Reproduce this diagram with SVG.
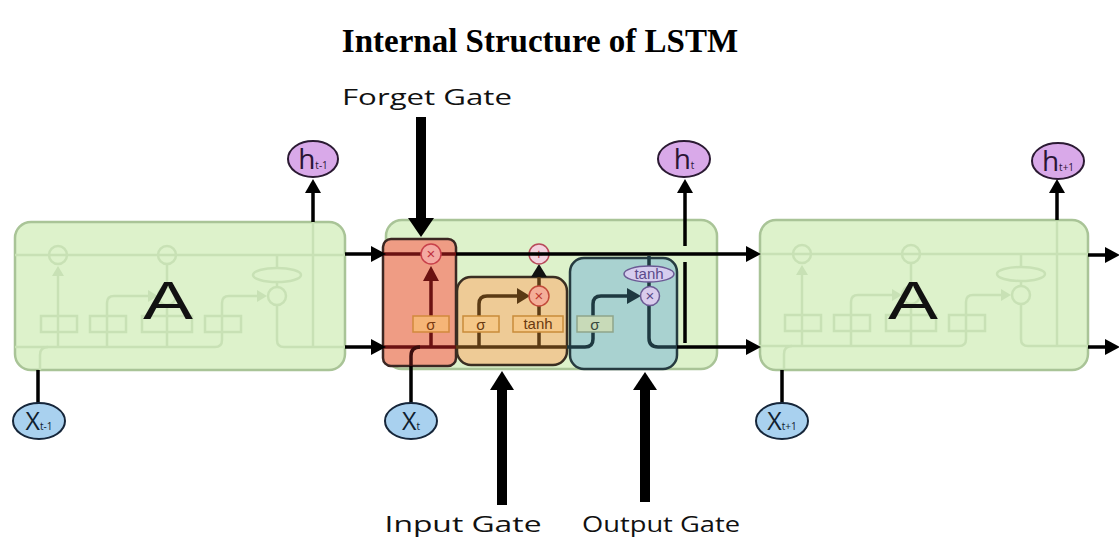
<svg xmlns="http://www.w3.org/2000/svg" xmlns:xlink="http://www.w3.org/1999/xlink" width="1119" height="537" viewBox="0 0 1119 537">
<style>
.title{font-family:"Liberation Serif","Times New Roman",serif;font-weight:bold;font-size:33px;fill:#000}
.lbl{font-family:"Open Sans","Noto Sans",sans-serif;font-size:22px;fill:#111}
.blk{fill:#ddf2cb;stroke:#a9c497;stroke-width:2.5}
.bigA{font-family:"Liberation Sans",Arial,sans-serif;font-size:54px;fill:#111}
.ln{fill:none;stroke:#000;stroke-width:3.5}
.thick{fill:none;stroke:#000;stroke-width:10}
.ah{fill:#000}
.hc{fill:#d9a9e9;stroke:#2b1a33;stroke-width:2}
.xc{fill:#a9d1ef;stroke:#16263a;stroke-width:2}
.ct{font-family:"Open Sans","Noto Sans",sans-serif;text-anchor:middle}
.ht{fill:#2b1535}
.xt{fill:#10202e}
.sm{font-family:"Liberation Sans",Arial,sans-serif;font-size:15px;text-anchor:middle}
</style>
<defs>
<g id="ghost" fill="none" stroke="#c8e1b5" stroke-width="2.5">
<path d="M0,33 H330"/>
<path d="M0,125 H200 q7,0 7,-7 V81 q0,-7 7,-7 H244"/>
<polygon points="242,68 242,80 252,74" fill="#c8e1b5" stroke="none"/>
<path d="M43,125 V52"/>
<polygon points="37,54 49,54 43,44" fill="#c8e1b5" stroke="none"/>
<circle cx="43" cy="33" r="9"/>
<rect x="26" y="94" width="36" height="16"/>
<path d="M92,125 V81 q0,-7 7,-7 H134"/>
<polygon points="133,68 133,80 143,74" fill="#c8e1b5" stroke="none"/>
<circle cx="152" cy="74" r="9"/>
<rect x="75" y="94" width="36" height="16"/>
<path d="M152,125 V83 M152,65 V42"/>
<circle cx="152" cy="33" r="9"/>
<rect x="127" y="94" width="50" height="16"/>
<rect x="190" y="94" width="36" height="16"/>
<ellipse cx="262" cy="53" rx="24" ry="7"/>
<path d="M262,33 V46 M262,60 V65"/>
<circle cx="262" cy="74" r="9"/>
<path d="M262,83 V118 q0,7 7,7 H330"/>
<path d="M298,0 V125"/>
<path d="M25,148 V133 q0,-8 8,-8"/>
</g>
</defs>

<text class="title" x="540" y="52" text-anchor="middle">Internal Structure of LSTM</text>

<g id="block-left">
<rect class="blk" x="15" y="222" width="330" height="148" rx="16"/>
<use xlink:href="#ghost" x="15" y="222"/>
<text class="bigA" x="168" y="319" text-anchor="middle" textLength="50" lengthAdjust="spacingAndGlyphs">A</text>
</g>

<g id="block-right">
<rect class="blk" x="760" y="220" width="328" height="150" rx="16"/>
<use xlink:href="#ghost" x="759" y="221"/>
<text class="bigA" x="913" y="319" text-anchor="middle" textLength="50" lengthAdjust="spacingAndGlyphs">A</text>
</g>

<g id="block-middle">
<rect class="blk" x="386" y="220" width="331" height="149" rx="16"/>
</g>

<g id="forget-gate">
<rect x="383" y="239" width="73" height="127" rx="8" fill="#ef9c84" stroke="#3b2723" stroke-width="2.5"/>
<path d="M383,254 H456 M383,347 H456 M431,347 V280" fill="none" stroke="#6b1111" stroke-width="3.5"/>
<path d="M411,366 V356 q0,-9 9,-9" fill="none" stroke="#3a0d0d" stroke-width="3.5"/>
<polygon points="423,281 439,281 431,266" fill="#6b1111"/>
<rect x="413" y="316" width="36" height="16" fill="#f6b577" stroke="#d2893d" stroke-width="1.5"/>
<text class="sm" x="431" y="330" fill="#7a3a12">σ</text>
<circle cx="431" cy="254" r="10" fill="#f4a9a2" stroke="#c8404a" stroke-width="1.5"/>
<text class="sm" x="431" y="259" fill="#c03040">×</text>
</g>

<g id="input-gate">
<rect x="457" y="277" width="110" height="88" rx="14" fill="#eecb96" stroke="#3a2e22" stroke-width="2.5"/>
<path d="M456,347 H567 M479,347 V304 q0,-8 8,-8 H520 M539,347 V306 M539,286 V275" fill="none" stroke="#5a3a14" stroke-width="3.5"/>
<polygon points="517,288 517,304 530,296" fill="#5a3a14"/>
<polygon points="531,277 547,277 539,264" fill="#111"/>
<rect x="463" y="316" width="36" height="16" fill="#f5c888" stroke="#c98c3a" stroke-width="1.5"/>
<text class="sm" x="481" y="330" fill="#6a3a10">σ</text>
<rect x="513" y="316" width="50" height="16" fill="#f5c888" stroke="#c98c3a" stroke-width="1.5"/>
<text class="sm" x="538" y="329" fill="#6a3a10">tanh</text>
<circle cx="539" cy="296" r="10" fill="#f4ae98" stroke="#c24a3a" stroke-width="1.5"/>
<text class="sm" x="539" y="301" fill="#c03a30">×</text>
<circle cx="539" cy="254" r="10" fill="#f3d3df" stroke="#b84a5a" stroke-width="1.5"/>
<text class="sm" x="539" y="259" fill="#b03a4a">+</text>
</g>

<g id="output-gate">
<rect x="570" y="258" width="107" height="111" rx="14" fill="#a9d2d0" stroke="#263b40" stroke-width="2.5"/>
<path d="M567,347 H585 q8,0 8,-8 V304 q0,-8 8,-8 H630 M649,256 V266 M649,282 V287 M649,306 V338 q0,9 9,9 H678" fill="none" stroke="#1e3940" stroke-width="3.5"/>
<polygon points="627,288 627,304 641,296" fill="#1e3940"/>
<rect x="577" y="316" width="36" height="16" fill="#c8dab8" stroke="#8fa58a" stroke-width="1.5"/>
<text class="sm" x="595" y="330" fill="#3a4a40">σ</text>
<ellipse cx="649" cy="274" rx="25" ry="8" fill="#d6cdee" stroke="#6b5a94" stroke-width="1.5"/>
<text class="sm" x="649" y="279" fill="#5b4a8a" font-size="13">tanh</text>
<circle cx="650" cy="296" r="9.5" fill="#d9ccec" stroke="#6b5a94" stroke-width="1.5"/>
<text class="sm" x="650" y="301" fill="#5a4a88">×</text>
</g>

<g id="connectors">
<path class="ln" d="M345,254 H373 M345,347 H373 M456,254 H748 M677,347 H748 M685,343 V262 M685,246 V192 M1088,255 H1107 M1088,347 H1107 M313,222 V192 M1057,220 V192 M38,370 V403 M782,370 V403 M411,366 V403"/>
<polygon class="ah" points="371,246 371,262 386,254"/>
<polygon class="ah" points="371,339 371,355 386,347"/>
<polygon class="ah" points="746,246 746,262 761,254"/>
<polygon class="ah" points="746,339 746,355 761,347"/>
<polygon class="ah" points="1105,247 1105,263 1120,255"/>
<polygon class="ah" points="1105,339 1105,355 1120,347"/>
<polygon class="ah" points="677,193 693,193 685,179"/>
<polygon class="ah" points="305,193 321,193 313,179"/>
<polygon class="ah" points="1049,193 1065,193 1057,179"/>
<path class="thick" d="M421,117 V220 M502,505 V388 M645,502 V388"/>
<polygon class="ah" points="408,218 434,218 421,237"/>
<polygon class="ah" points="490,390 514,390 502,371"/>
<polygon class="ah" points="633,390 657,390 645,372"/>
</g>

<g id="label-forget"><text class="lbl" x="427" y="105" text-anchor="middle" textLength="170" lengthAdjust="spacingAndGlyphs">Forget Gate</text></g>
<g id="label-input"><text class="lbl" x="463" y="532" text-anchor="middle" textLength="157" lengthAdjust="spacingAndGlyphs">Input Gate</text></g>
<g id="label-output"><text class="lbl" x="661" y="532" text-anchor="middle" textLength="158" lengthAdjust="spacingAndGlyphs">Output Gate</text></g>

<g id="h-prev">
<ellipse class="hc" cx="313" cy="159" rx="25" ry="18"/>
<text class="ct ht" x="313" y="169"><tspan font-size="28">h</tspan><tspan font-size="10">t-1</tspan></text>
</g>
<g id="h-cur">
<ellipse class="hc" cx="684" cy="159" rx="26" ry="18"/>
<text class="ct ht" x="684" y="169"><tspan font-size="28">h</tspan><tspan font-size="10">t</tspan></text>
</g>
<g id="h-next">
<ellipse class="hc" cx="1058" cy="161" rx="26" ry="18"/>
<text class="ct ht" x="1058" y="171"><tspan font-size="28">h</tspan><tspan font-size="10">t+1</tspan></text>
</g>
<g id="x-prev">
<ellipse class="xc" cx="39" cy="421" rx="26" ry="18"/>
<text class="ct xt" x="39" y="430"><tspan font-size="25">X</tspan><tspan font-size="10">t-1</tspan></text>
</g>
<g id="x-cur">
<ellipse class="xc" cx="411" cy="421" rx="26" ry="18"/>
<text class="ct xt" x="411" y="430"><tspan font-size="25">X</tspan><tspan font-size="10">t</tspan></text>
</g>
<g id="x-next">
<ellipse class="xc" cx="782" cy="421" rx="26" ry="18"/>
<text class="ct xt" x="782" y="430"><tspan font-size="25">X</tspan><tspan font-size="10">t+1</tspan></text>
</g>
</svg>
